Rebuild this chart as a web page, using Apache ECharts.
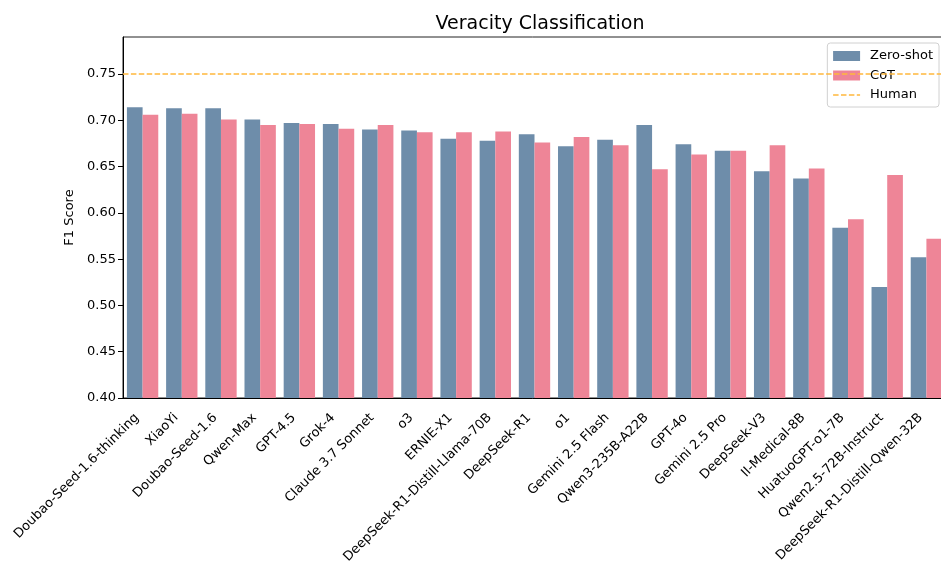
<!DOCTYPE html>
<html>
<head>
<meta charset="utf-8">
<script src="https://cdn.jsdelivr.net/npm/echarts@6/dist/echarts.min.js"></script>
<style>
  html, body { margin: 0; padding: 0; background: #fff; }
  #chart { width: 941px; height: 563px; }
</style>
</head>
<body>
<div id="chart"></div>
<script>
// categories and scores
var models = ['Doubao-Seed-1.6-thinking', 'XiaoYi', 'Doubao-Seed-1.6', 'Qwen-Max', 'GPT-4.5', 'Grok-4',
  'Claude 3.7 Sonnet', 'o3', 'ERNIE-X1', 'DeepSeek-R1-Distill-Llama-70B', 'DeepSeek-R1', 'o1',
  'Gemini 2.5 Flash', 'Qwen3-235B-A22B', 'GPT-4o', 'Gemini 2.5 Pro', 'DeepSeek-V3', 'II-Medical-8B',
  'HuatuoGPT-o1-7B', 'Qwen2.5-72B-Instruct', 'DeepSeek-R1-Distill-Qwen-32B'];
var zeroShot = [0.714, 0.713, 0.713, 0.701, 0.697, 0.696, 0.690, 0.689, 0.680, 0.678, 0.685, 0.672,
  0.679, 0.695, 0.674, 0.667, 0.645, 0.637, 0.584, 0.520, 0.552];
var cot = [0.706, 0.707, 0.701, 0.695, 0.696, 0.691, 0.695, 0.687, 0.687, 0.688, 0.676, 0.682,
  0.673, 0.647, 0.663, 0.667, 0.673, 0.648, 0.593, 0.641, 0.572];
var humanScore = 0.752;
var yTicks = [0.40, 0.45, 0.50, 0.55, 0.60, 0.65, 0.70, 0.75];

var font = 'DejaVu Sans';
var humanDash = [5.5, 2.4];
var chart = echarts.init(document.getElementById('chart'));

chart.setOption({
  animation: false,
  textStyle: { fontFamily: font },
  title: {
    text: 'Veracity Classification',
    left: 535, top: 10, textAlign: 'center',
    textStyle: { fontFamily: font, fontSize: 19, fontWeight: 'normal', color: '#000' }
  },
  grid: {
    left: 123, right: -5, top: 37, bottom: 165,
    containLabel: false, outerBoundsMode: 'none',
    show: true, borderColor: '#222', borderWidth: 1
  },
  legend: {
    orient: 'vertical', right: 2, top: 43,
    padding: [6, 6, 5, 5],
    itemWidth: 27, itemHeight: 10, itemGap: 5.5,
    backgroundColor: 'rgba(255,255,255,0.85)', borderColor: '#d0d0d0', borderWidth: 1, borderRadius: 3,
    textStyle: { fontFamily: font, fontSize: 13, color: '#000', lineHeight: 14, padding: [0, 0, 0, 5] },
    data: [
      { name: 'Zero-shot', icon: 'rect' },
      { name: 'CoT', icon: 'rect' },
      { name: 'Human', itemStyle: { opacity: 0 }, lineStyle: { type: humanDash, width: 1.5 } }
    ]
  },
  xAxis: {
    type: 'category',
    data: models,
    axisLine: { lineStyle: { color: '#000', width: 1 } },
    axisTick: { alignWithLabel: true, length: 5, lineStyle: { color: '#000' } },
    axisLabel: { rotate: 45, fontSize: 13, color: '#000', interval: 0, margin: 12, padding: [0, 8, 0, 0] }
  },
  yAxis: {
    type: 'value',
    min: 0.40, max: 0.79, interval: 0.05,
    name: 'F1 Score', nameLocation: 'middle', nameGap: 40,
    nameTextStyle: { fontFamily: font, fontSize: 13, color: '#000' },
    splitLine: { show: false },
    axisLine: { show: true, lineStyle: { color: '#000', width: 1 } },
    axisTick: { show: true, length: 5, lineStyle: { color: '#000' }, customValues: yTicks },
    axisLabel: {
      fontSize: 13, color: '#000', margin: 7,
      customValues: yTicks,
      formatter: function (v) { return v.toFixed(2); }
    }
  },
  series: [
    {
      name: 'Zero-shot', type: 'bar', data: zeroShot,
      barWidth: '40%', barGap: '0%',
      itemStyle: { color: '#6E8DAA' }
    },
    {
      name: 'CoT', type: 'bar', data: cot,
      barWidth: '40%', barGap: '0%',
      itemStyle: { color: '#EE8597' }
    },
    {
      name: 'Human', type: 'line', data: [],
      symbol: 'none',
      itemStyle: { color: '#FFB83D' },
      lineStyle: { color: '#FFB83D', type: humanDash, width: 1.5 },
      markLine: {
        silent: true, symbol: 'none',
        label: { show: false },
        lineStyle: { color: '#FFB83D', type: humanDash, width: 1.5 },
        data: [{ yAxis: humanScore }]
      }
    }
  ]
});
</script>
</body>
</html>
